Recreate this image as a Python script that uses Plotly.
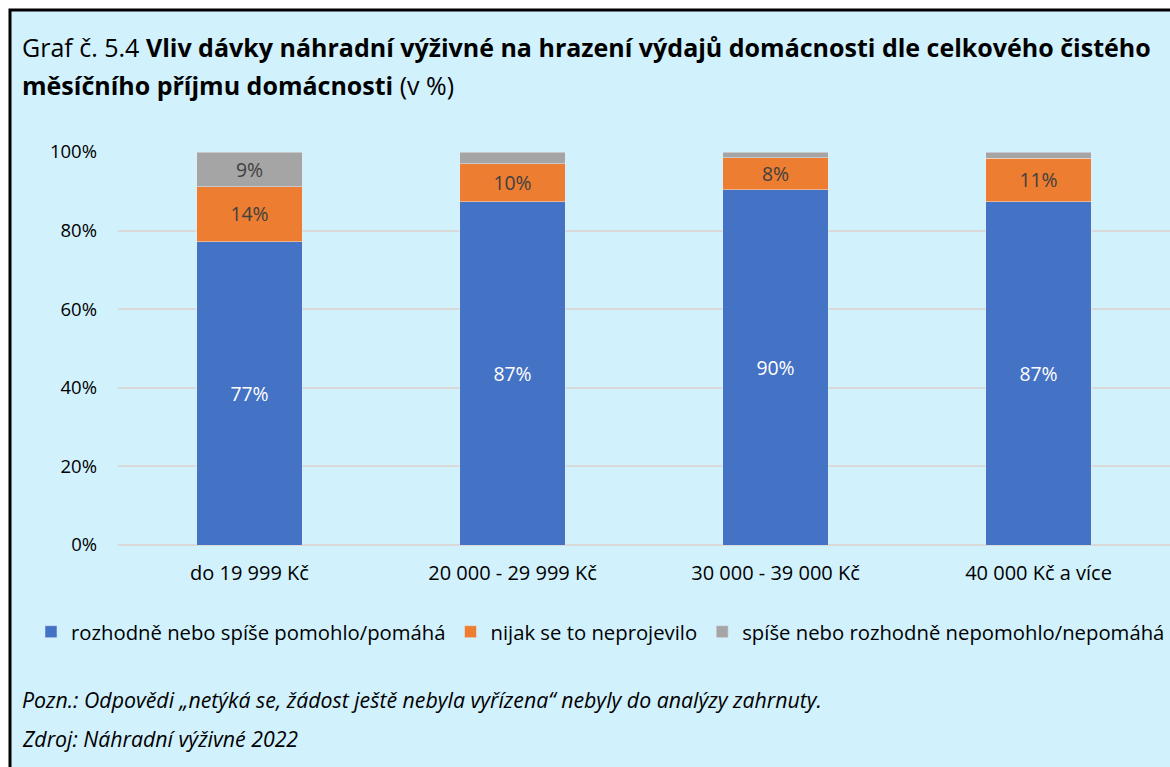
import plotly.graph_objects as go

categories = ["do 19 999 Kč", "20 000 - 29 999 Kč", "30 000 - 39 000 Kč", "40 000 Kč a více"]
pomohlo = [77.2, 87.4, 90.4, 87.4]
neprojevilo = [14.0, 9.6, 8.2, 11.0]
nepomohlo = [8.8, 3.0, 1.4, 1.6]
lbl_pomohlo = ["77%", "87%", "90%", "87%"]
lbl_neprojevilo = ["14%", "10%", "8%", "11%"]
lbl_nepomohlo = ["9%", "", "", ""]
y_ticks = [0, 20, 40, 60, 80, 100]
y_ticktext = ["0%", "20%", "40%", "60%", "80%", "100%"]

COL = {
    "bg": "#d1f1fd",
    "blue": "#4472c4",
    "orange": "#ed7d31",
    "gray": "#a5a5a5",
    "grid": "#d9d9d9",
}
FONT = "Open Sans, Noto Sans, sans-serif"

# window pixels; body margin is removed in the page, so no offset needed
W, H = 1170, 767
L, R, T, B = 118, 0, 152, 767 - 545
pw, ph = W - L - R, H - T - B


def px_x(x):
    return (x - L) / pw


def px_y(y):
    return (H - B - y) / ph


fig = go.Figure()
fig.add_trace(go.Bar(
    x=categories, y=pomohlo, name="rozhodně nebo spíše pomohlo/pomáhá",
    marker=dict(color=COL["blue"]), text=lbl_pomohlo, textposition="inside",
    insidetextanchor="middle", textfont=dict(color="white", size=20, family=FONT),
))
fig.add_trace(go.Bar(
    x=categories, y=neprojevilo, name="nijak se to neprojevilo",
    marker=dict(color=COL["orange"]), text=lbl_neprojevilo, textposition="inside",
    insidetextanchor="middle", textfont=dict(color="#404040", size=20, family=FONT),
))
fig.add_trace(go.Bar(
    x=categories, y=nepomohlo, name="spíše nebo rozhodně nepomohlo/nepomáhá",
    marker=dict(color=COL["gray"]), text=lbl_nepomohlo, textposition="inside",
    insidetextanchor="middle", textfont=dict(color="#404040", size=20, family=FONT),
))

# light blue panel with the black frame on its top/left edge
fig.add_shape(
    type="rect", xref="paper", yref="paper", layer="below",
    x0=px_x(10), x1=px_x(1200), y0=px_y(800), y1=px_y(10),
    fillcolor=COL["bg"], line=dict(color="black", width=3),
)

fig.add_annotation(
    xref="paper", yref="paper", x=px_x(20), y=px_y(47), xanchor="left", yanchor="middle",
    showarrow=False,
    text="Graf č. 5.4 <b>Vliv dávky náhradní výživné na hrazení výdajů domácnosti dle celkového čistého</b>",
    font=dict(size=25, color="black", family=FONT),
)
fig.add_annotation(
    xref="paper", yref="paper", x=px_x(20), y=px_y(85), xanchor="left", yanchor="middle",
    showarrow=False,
    text="<b>měsíčního příjmu domácnosti</b> (v %)",
    font=dict(size=25, color="black", family=FONT),
)
fig.add_annotation(
    xref="paper", yref="paper", x=px_x(20), y=px_y(699), xanchor="left", yanchor="middle",
    showarrow=False,
    text="<i>Pozn.: Odpovědi „netýká se, žádost ještě nebyla vyřízena“ nebyly do analýzy zahrnuty.</i>",
    font=dict(size=21.3, color="black", family=FONT),
)
fig.add_annotation(
    xref="paper", yref="paper", x=px_x(20), y=px_y(738), xanchor="left", yanchor="middle",
    showarrow=False,
    text="<i>Zdroj: Náhradní výživné 2022</i>",
    font=dict(size=21.3, color="black", family=FONT),
)

fig.update_layout(
    width=W, height=H,
    barmode="stack", bargap=0.6,
    paper_bgcolor="white", plot_bgcolor="rgba(0,0,0,0)",
    font=dict(family=FONT, color="black"),
    margin=dict(l=L, r=R, t=T, b=B, pad=0),
    showlegend=True,
    legend=dict(
        orientation="h", x=px_x(50), y=px_y(632), xanchor="left", yanchor="middle",
        font=dict(size=20.3, color="black"), bgcolor="rgba(0,0,0,0)", traceorder="normal",
    ),
    xaxis=dict(
        showgrid=False, showline=False, ticks="",
        tickfont=dict(size=20, color="black"), ticklabelstandoff=14,
    ),
    yaxis=dict(
        range=[0, 100], tickvals=y_ticks, ticktext=y_ticktext,
        showgrid=True, gridcolor=COL["grid"], gridwidth=2,
        zeroline=True, zerolinecolor=COL["grid"], zerolinewidth=2,
        tickfont=dict(size=18.5, color="black"), ticklabelstandoff=20,
    ),
    uniformtext=dict(mode="show", minsize=10),
)

fig.write_html(
    "out.html",
    config={"displayModeBar": False},
    post_script="document.body.style.margin = '0px';",
)
